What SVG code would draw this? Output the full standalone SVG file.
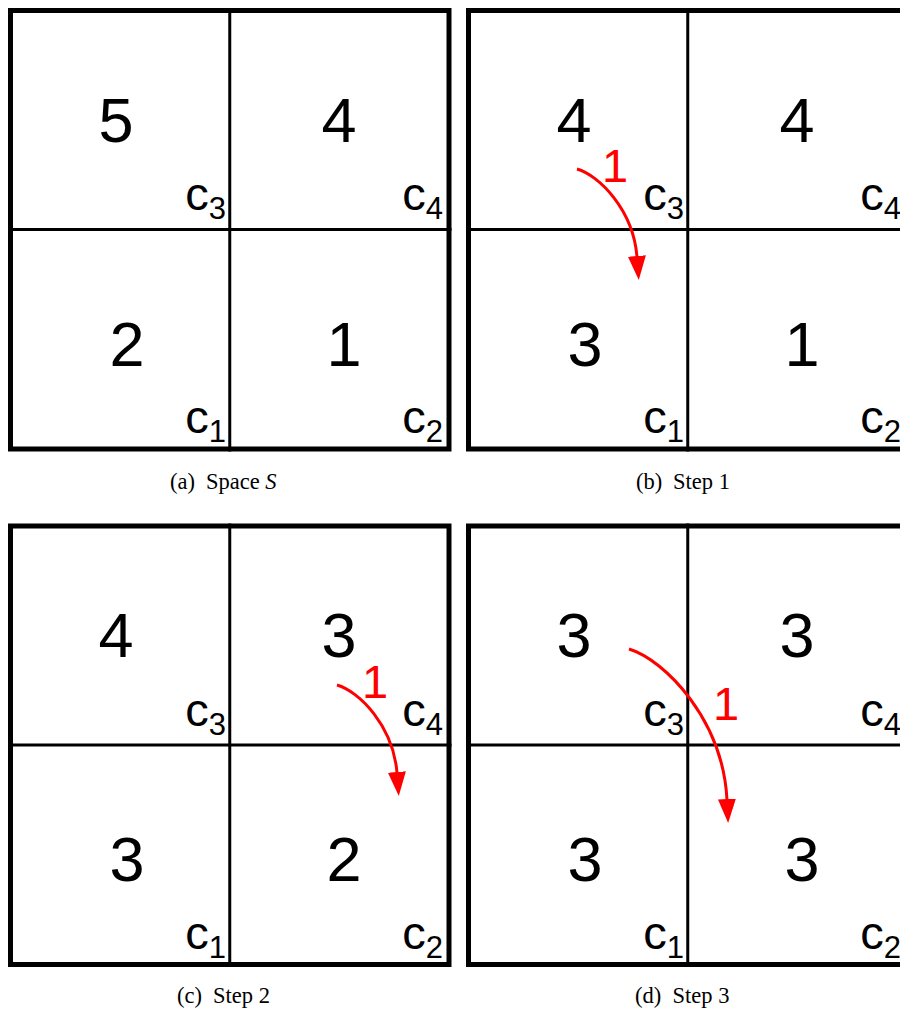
<svg xmlns="http://www.w3.org/2000/svg" width="900" height="1012" viewBox="0 0 900 1012">
<style>
.frame{fill:none;stroke:#000;stroke-width:5}
.grid{stroke:#000;stroke-width:3}
.num{font-family:"Liberation Sans",Arial,sans-serif;font-size:63px;fill:#000;text-anchor:middle}
.lab{font-family:"Liberation Sans",Arial,sans-serif;font-size:47px;fill:#000;text-anchor:end}
.sub{font-size:31px}
.cap{font-family:"Liberation Serif","Times New Roman",serif;font-size:22.5px;fill:#000}
.arr{fill:none;stroke:#ff0000;stroke-width:3;marker-end:url(#ah)}
.rl{font-family:"Liberation Sans",Arial,sans-serif;font-size:47px;fill:#ff0000;text-anchor:middle}
</style>
<defs>
<marker id="ah" markerUnits="userSpaceOnUse" markerWidth="26" markerHeight="22" viewBox="0 -11 26 22" refX="1" refY="0" orient="auto">
<path d="M0,-9 L24,0 L0,9 z" fill="#ff0000"/>
</marker>
</defs>
<rect width="900" height="1012" fill="#fff"/>

<g id="panel-a">
<rect class="frame" x="10.5" y="10.5" width="438.5" height="438.5"/>
<line class="grid" x1="229.75" y1="8" x2="229.75" y2="451.5"/>
<line class="grid" x1="8" y1="229.5" x2="451.5" y2="229.5"/>
<g id="a-c3"><text class="num" x="116" y="141.5">5</text><text class="lab" x="226" y="210">c<tspan class="sub" dy="9">3</tspan></text></g>
<g id="a-c4"><text class="num" x="339" y="141.5">4</text><text class="lab" x="443" y="210">c<tspan class="sub" dy="9">4</tspan></text></g>
<g id="a-c1"><text class="num" x="127" y="365.5">2</text><text class="lab" x="226" y="433">c<tspan class="sub" dy="9">1</tspan></text></g>
<g id="a-c2"><text class="num" x="344" y="365.5">1</text><text class="lab" x="443" y="433">c<tspan class="sub" dy="9">2</tspan></text></g>
<text class="cap" x="170" y="489">(a)</text><text class="cap" x="206" y="489">Space <tspan font-style="italic">S</tspan></text>
</g>

<g id="panel-b" transform="translate(458,0)">
<rect class="frame" x="10.5" y="10.5" width="438.5" height="438.5"/>
<line class="grid" x1="229.75" y1="8" x2="229.75" y2="451.5"/>
<line class="grid" x1="8" y1="229.5" x2="451.5" y2="229.5"/>
<g id="b-c3"><text class="num" x="116" y="141.5">4</text><text class="lab" x="226" y="210">c<tspan class="sub" dy="9">3</tspan></text></g>
<g id="b-c4"><text class="num" x="339" y="141.5">4</text><text class="lab" x="443" y="210">c<tspan class="sub" dy="9">4</tspan></text></g>
<g id="b-c1"><text class="num" x="127" y="365.5">3</text><text class="lab" x="226" y="433">c<tspan class="sub" dy="9">1</tspan></text></g>
<g id="b-c2"><text class="num" x="344" y="365.5">1</text><text class="lab" x="443" y="433">c<tspan class="sub" dy="9">2</tspan></text></g>
<text class="cap" x="178" y="489">(b)</text><text class="cap" x="215" y="489">Step 1</text>
</g>

<g id="panel-c" transform="translate(0,515.5)">
<rect class="frame" x="10.5" y="10.5" width="438.5" height="438.5"/>
<line class="grid" x1="229.75" y1="8" x2="229.75" y2="451.5"/>
<line class="grid" x1="8" y1="229.5" x2="451.5" y2="229.5"/>
<g id="c-c3"><text class="num" x="116" y="141.5">4</text><text class="lab" x="226" y="210">c<tspan class="sub" dy="9">3</tspan></text></g>
<g id="c-c4"><text class="num" x="339" y="141.5">3</text><text class="lab" x="443" y="210">c<tspan class="sub" dy="9">4</tspan></text></g>
<g id="c-c1"><text class="num" x="127" y="365.5">3</text><text class="lab" x="226" y="433">c<tspan class="sub" dy="9">1</tspan></text></g>
<g id="c-c2"><text class="num" x="344" y="365.5">2</text><text class="lab" x="443" y="433">c<tspan class="sub" dy="9">2</tspan></text></g>
<text class="cap" x="177" y="487.5">(c)</text><text class="cap" x="213" y="487.5">Step 2</text>
</g>

<g id="panel-d" transform="translate(458,515.5)">
<rect class="frame" x="10.5" y="10.5" width="438.5" height="438.5"/>
<line class="grid" x1="229.75" y1="8" x2="229.75" y2="451.5"/>
<line class="grid" x1="8" y1="229.5" x2="451.5" y2="229.5"/>
<g id="d-c3"><text class="num" x="116" y="141.5">3</text><text class="lab" x="226" y="210">c<tspan class="sub" dy="9">3</tspan></text></g>
<g id="d-c4"><text class="num" x="339" y="141.5">3</text><text class="lab" x="443" y="210">c<tspan class="sub" dy="9">4</tspan></text></g>
<g id="d-c1"><text class="num" x="127" y="365.5">3</text><text class="lab" x="226" y="433">c<tspan class="sub" dy="9">1</tspan></text></g>
<g id="d-c2"><text class="num" x="344" y="365.5">3</text><text class="lab" x="443" y="433">c<tspan class="sub" dy="9">2</tspan></text></g>
<text class="cap" x="177" y="487.5">(d)</text><text class="cap" x="214.5" y="487.5">Step 3</text>
</g>

<g id="connectors">
<path class="arr" d="M577,169 C599.3,175.4 633.4,210.2 637,257"/>
<text class="rl" x="615" y="181.5">1</text>
<path class="arr" d="M337,685 C359.3,691.4 393.4,726.2 397,773"/>
<text class="rl" x="375" y="697.5">1</text>
<path class="arr" d="M629,649 C665,660 723,720 727,800"/>
<text class="rl" x="726" y="720">1</text>
</g>
</svg>
